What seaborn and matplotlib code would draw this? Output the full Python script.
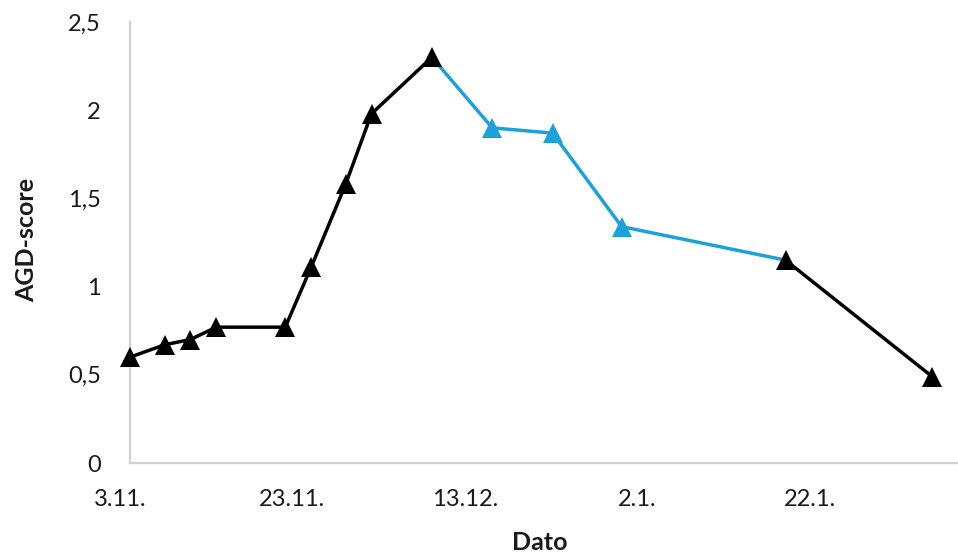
import matplotlib
matplotlib.use("Agg")
import matplotlib.pyplot as plt
import matplotlib.transforms as mtrans
import seaborn as sns
import pandas as pd

# ---- data ----
dates = ["2014-11-03", "2014-11-07", "2014-11-10", "2014-11-13", "2014-11-21",
         "2014-11-24", "2014-11-28", "2014-12-01", "2014-12-08", "2014-12-15",
         "2014-12-22", "2014-12-30", "2015-01-18", "2015-02-04"]
agd_score = [0.60, 0.67, 0.70, 0.77, 0.77, 1.11, 1.58, 1.98, 2.30,
             1.90, 1.87, 1.34, 1.15, 0.49]
# phase of each segment: first block black, middle block blue, last block black
before_end = 9      # points 0..8 black
treat_end = 13      # points 8..12 blue (endpoints shared)
tick_dates = ["2014-11-03", "2014-11-23", "2014-12-13", "2015-01-02", "2015-01-22"]
tick_labels = ["3.11.", "23.11.", "13.12.", "2.1.", "22.1."]
y_ticks = [0, 0.5, 1, 1.5, 2, 2.5]
y_labels = ["0", "0,5", "1", "1,5", "2", "2,5"]

df = pd.DataFrame({"Dato": pd.to_datetime(dates), "AGD": agd_score})

sns.set_theme(style="white")
plt.rcParams["font.family"] = ["Lato", "DejaVu Sans"]

BLACK = "#000000"
BLUE = "#1DA1DB"
TXT = "#1a1a1a"

fig = plt.figure(figsize=(9.58, 5.60), dpi=100)
ax = fig.add_axes([130 / 958, 97 / 560, 828 / 958, 441 / 560])

seg1 = df.iloc[:before_end]
seg2 = df.iloc[before_end - 1:treat_end]
seg3 = df.iloc[treat_end - 1:]

lw = 2.5
ms = 14.5
# blue line first (under the black end markers)
sns.lineplot(data=seg2, x="Dato", y="AGD", color=BLUE, lw=lw, ax=ax,
             estimator=None, sort=False, zorder=3)
ax.plot(seg2["Dato"].iloc[1:-1], seg2["AGD"].iloc[1:-1], ls="none", marker="^",
        ms=ms, color=BLUE, mew=0, zorder=4, clip_on=False)
for seg in (seg1, seg3):
    sns.lineplot(data=seg, x="Dato", y="AGD", color=BLACK, lw=lw, ax=ax,
                 estimator=None, sort=False, marker="^", markersize=ms,
                 markeredgewidth=0, zorder=5, clip_on=False)

ax.set_xlim(pd.Timestamp("2014-11-03"), pd.Timestamp("2015-02-07"))
ax.set_ylim(0, 2.5)

ax.set_xticks(pd.to_datetime(tick_dates))
ax.set_xticklabels(tick_labels)
ax.set_yticks(y_ticks)
ax.set_yticklabels(y_labels)

ax.tick_params(axis="both", length=0, labelsize=17, labelcolor=TXT)
ax.tick_params(axis="y", pad=21)
ax.tick_params(axis="x", pad=19)

shift = mtrans.ScaledTranslation(-10 / 100, 0, fig.dpi_scale_trans)
for lab in ax.get_xticklabels():
    lab.set_transform(lab.get_transform() + shift)

for s in ("top", "right"):
    ax.spines[s].set_visible(False)
for s in ("left", "bottom"):
    ax.spines[s].set_color("#d0d0d0")
    ax.spines[s].set_linewidth(1.6)

ax.set_xlabel("Dato", fontsize=18, fontweight="bold", color=TXT)
ax.set_ylabel("AGD-score", fontsize=18, fontweight="bold", color=TXT)
ax.xaxis.set_label_coords(0.5 - 4 / 828, -(543 - 463) / 441)
ax.xaxis.label.set_va("center")
ax.yaxis.set_label_coords(-(130 - 27) / 828, 0.5 + 3 / 441)
ax.yaxis.label.set_va("center")

ax.grid(False)
fig.savefig("out.png", dpi=100)
